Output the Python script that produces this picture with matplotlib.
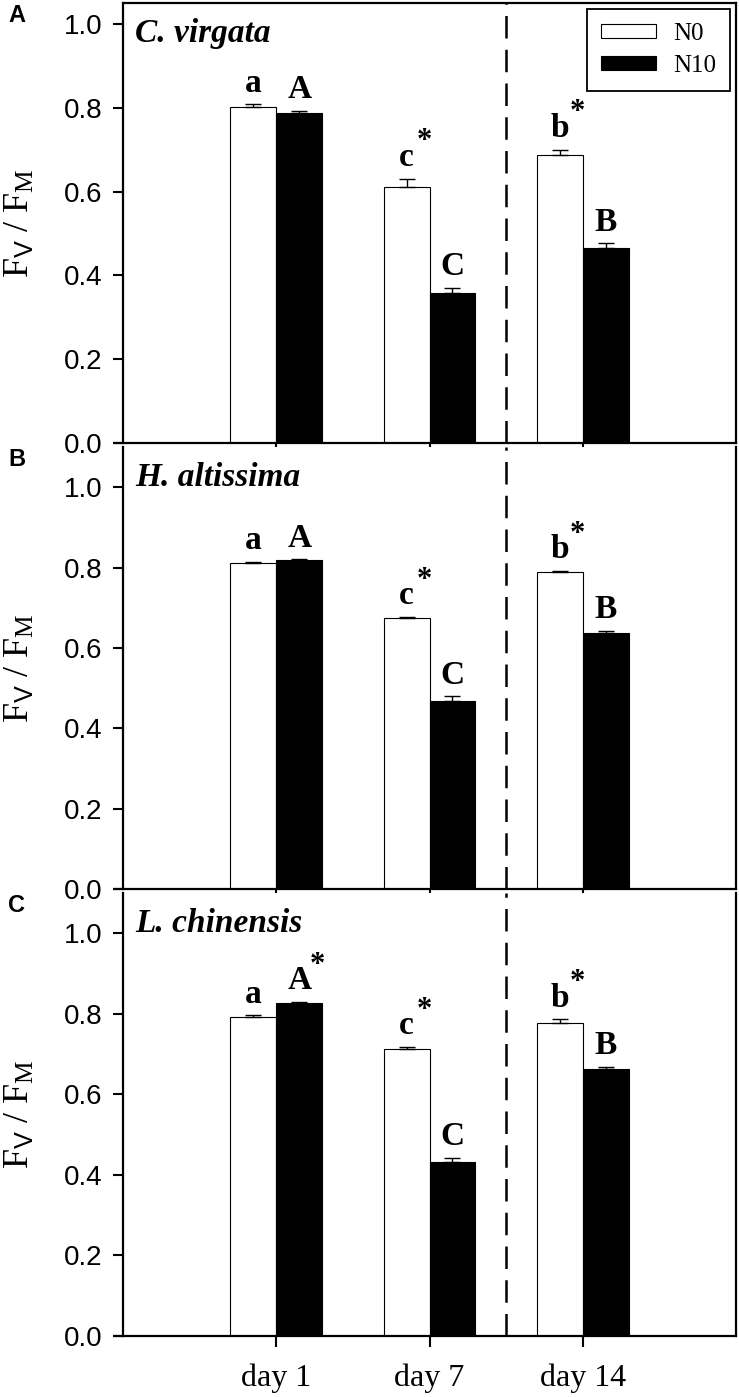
import numpy as np
import matplotlib.pyplot as plt

# x categories and treatments
days = ['day 1', 'day 7', 'day 14']
treatments = ['N0', 'N10']
n0_letters = ['a', 'c', 'b']
n10_letters = ['A', 'C', 'B']

# C. virgata
virgata_n0 = [0.803, 0.610, 0.687]
virgata_n0_se = [0.005, 0.021, 0.013]
virgata_n10 = [0.787, 0.358, 0.465]
virgata_n10_se = [0.006, 0.012, 0.012]
virgata_n0_star = [0, 1, 1]
virgata_n10_star = [0, 0, 0]

# H. altissima
altissima_n0 = [0.812, 0.674, 0.789]
altissima_n0_se = [0.002, 0.003, 0.003]
altissima_n10 = [0.818, 0.468, 0.636]
altissima_n10_se = [0.003, 0.012, 0.007]
altissima_n0_star = [0, 1, 1]
altissima_n10_star = [0, 0, 0]

# L. chinensis
chinensis_n0 = [0.793, 0.712, 0.778]
chinensis_n0_se = [0.003, 0.006, 0.008]
chinensis_n10 = [0.826, 0.433, 0.664]
chinensis_n10_se = [0.004, 0.010, 0.005]
chinensis_n0_star = [0, 1, 1]
chinensis_n10_star = [1, 0, 0]

panels = [
    ('A', 'C. virgata', virgata_n0, virgata_n0_se, virgata_n10, virgata_n10_se,
     virgata_n0_star, virgata_n10_star, 1.05),
    ('B', 'H. altissima', altissima_n0, altissima_n0_se, altissima_n10, altissima_n10_se,
     altissima_n0_star, altissima_n10_star, 1.1),
    ('C', 'L. chinensis', chinensis_n0, chinensis_n0_se, chinensis_n10, chinensis_n10_se,
     chinensis_n0_star, chinensis_n10_star, 1.1),
]

serif = 'Liberation Serif'
sans = 'Liberation Sans'
plt.rcParams['mathtext.fontset'] = 'custom'
plt.rcParams['mathtext.rm'] = serif
plt.rcParams['mathtext.it'] = serif + ':italic'
plt.rcParams['mathtext.sf'] = sans

W, H = 739, 1397
fig = plt.figure(figsize=(W / 100, H / 100), dpi=100)

left = 123 / W
width = (736 - 123) / W
# (top px, bottom px) of each panel
boxes = [(3, 443), (447, 889), (893, 1336)]

x = np.arange(1, len(days) + 1)
bw = 0.3

for i, (tag, name, n0, n0_se, n10, n10_se, s0, s10, ytop) in enumerate(panels):
    top_px, bot_px = boxes[i]
    ax = fig.add_axes([left, 1 - bot_px / H, width, (bot_px - top_px) / H])

    ax.bar(x - bw / 2, n0, bw, color='white', edgecolor='black', linewidth=0.8,
           label=treatments[0], zorder=2)
    ax.bar(x + bw / 2, n10, bw, color='black', edgecolor='black', linewidth=0.8,
           label=treatments[1], zorder=2)
    ax.errorbar(x - bw / 2, n0, yerr=[np.zeros(3), n0_se], fmt='none', ecolor='black',
                elinewidth=1, capsize=5.5, capthick=1, zorder=3)
    ax.errorbar(x + bw / 2, n10, yerr=[np.zeros(3), n10_se], fmt='none', ecolor='black',
                elinewidth=1, capsize=5.5, capthick=1, zorder=3)

    # significance letters
    for j in range(len(days)):
        for xpos, val, se, lab, star in [(x[j] - bw / 2, n0[j], n0_se[j], n0_letters[j], s0[j]),
                                         (x[j] + bw / 2, n10[j], n10_se[j], n10_letters[j], s10[j])]:
            ax.annotate(lab, xy=(xpos, val + se), xytext=(0, 9), textcoords='offset points',
                        ha='center', va='baseline', fontsize=24, fontweight='bold',
                        family=serif)
            if star:
                ax.annotate('*', xy=(xpos, val + se), xytext=(13, 21), textcoords='offset points',
                            ha='center', va='baseline', fontsize=22, fontweight='bold',
                            family=serif)

    ax.axvline(2.5, color='black', lw=1.8, dashes=(9, 4.5), zorder=1)

    ax.text(0.02, 0.912, name, transform=ax.transAxes, fontsize=24, fontweight='bold',
            fontstyle='italic', family=serif, va='baseline', ha='left')

    ax.set_xlim(0, 4)
    ax.set_ylim(0, ytop)
    ax.set_yticks([0.0, 0.2, 0.4, 0.6, 0.8, 1.0])
    ax.set_yticklabels(['0.0', '0.2', '0.4', '0.6', '0.8', '1.0'], fontsize=20, family=sans)
    ax.set_xticks(x)
    if i == 2:
        ax.set_xticklabels(days, fontsize=23, family=serif)
    else:
        ax.set_xticklabels([])
    ax.tick_params(axis='y', direction='out', length=7, width=1.5, pad=8)
    ax.tick_params(axis='x', direction='out', length=8, width=1.5, pad=12)

    for sp in ax.spines.values():
        sp.set_linewidth(1.6)
    if i > 0:
        ax.spines['top'].set_visible(False)
    # the x axis line runs a little past the y axis, as in the original
    ax.plot([-0.017, 0], [0, 0], transform=ax.transAxes, color='black', lw=1.6,
            clip_on=False, solid_capstyle='butt')

    ax.set_ylabel(r'$\mathregular{F_{\mathsf{V}}\ /\ F_M}$', fontsize=26, family=serif)
    ax.yaxis.set_label_coords(-0.14, 0.5)

    fig.text(8 / W, 1 - (top_px + 13) / H, tag, fontsize=17, fontweight='bold',
             family=sans, va='center', ha='left')

    if i == 0:
        ax.legend(loc='upper right', prop={'family': serif, 'size': 18},
                  frameon=True, fancybox=False, edgecolor='black', framealpha=1,
                  handlelength=2.2, handleheight=0.45, borderaxespad=0.25,
                  labelspacing=0.4, borderpad=0.55,
                  handletextpad=0.7).get_frame().set_linewidth(1.3)

fig.savefig('out.png', dpi=100)
